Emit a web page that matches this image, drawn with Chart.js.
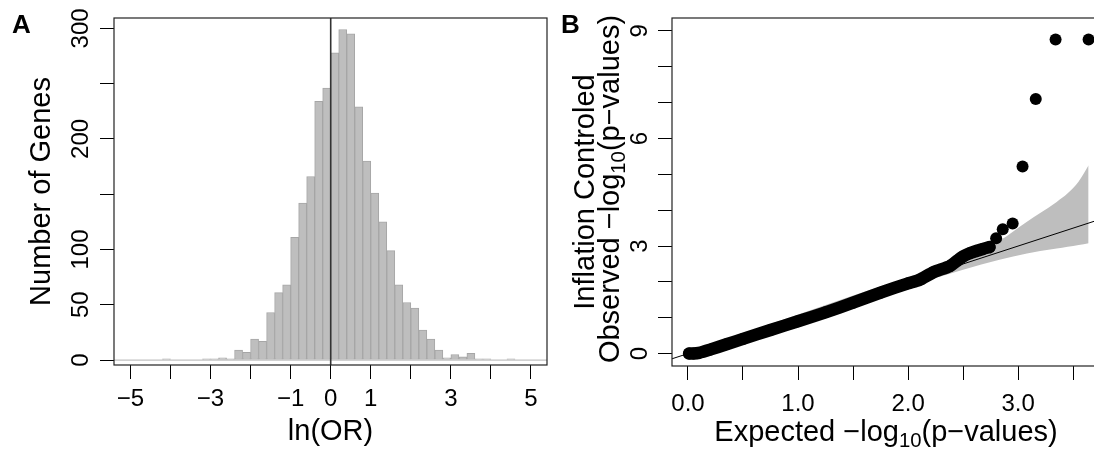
<!DOCTYPE html>
<html><head><meta charset="utf-8">
<script src="https://cdn.jsdelivr.net/npm/chart.js@4.4.0/dist/chart.umd.min.js"></script>
<style>
html,body{margin:0;padding:0;background:#fff;overflow:hidden;width:1094px;height:451px;}
#wa{position:absolute;left:0;top:0;width:556px;height:451px;}
#wb{position:absolute;left:556px;top:0;width:564px;height:451px;}
canvas{display:block;}
</style></head><body>
<div id="wa"><canvas id="ca" width="556" height="451"></canvas></div>
<div id="wb"><canvas id="cb" width="564" height="451"></canvas></div>
<script>
// ---------- Panel A : histogram of ln(OR) ----------
const binCenters = [-4.1,-3.9,-3.7,-3.5,-3.3,-3.1,-2.9,-2.7,-2.5,-2.3,-2.1,-1.9,-1.7,-1.5,-1.3,-1.1,-0.9,-0.7,-0.5,-0.3,-0.1,
                    0.1,0.3,0.5,0.7,0.9,1.1,1.3,1.5,1.7,1.9,2.1,2.3,2.5,2.7,2.9,3.1,3.3,3.5,3.7,3.9,4.1,4.3,4.5];
const geneCounts = [1,0,0,0,0,1,1,2,1,9,7,19,17,43,61,68,111,142,166,234,246,
                    278,299,295,229,180,151,125,99,68,52,47,27,19,9,2,5,3,6,1,1,0,0,1];
const xTicksA = [-5,-4,-3,-2,-1,0,1,2,3,4,5];
const xTickLabelsA = ['\u22125','','\u22123','','\u22121','0','1','','3','','5'];
const yTicksA = [0,50,100,150,200,250,300];
const yTickLabelsA = ['0','50','100','','200','','300'];

// ---------- Panel B : QQ plot ----------
const curveExpected = [0.01,0.05,0.10,0.20,0.35,0.50,0.75,1.00,1.25,1.50,1.75,2.00,2.10,2.23,2.38,2.45,2.50,2.56,2.62,2.68,2.74];
const curveObserved = [0.00,0.00,0.02,0.11,0.26,0.41,0.66,0.90,1.15,1.42,1.70,1.96,2.05,2.27,2.44,2.60,2.71,2.80,2.86,2.92,2.97];
const topExpected = [2.80,2.86,2.95,3.04,3.16,3.34,3.64];
const topObserved = [3.22,3.47,3.63,5.22,7.10,8.76,8.76];
const bandExpected = [0.0,0.5,1.0,1.5,2.0,2.5,2.83,3.08,3.2,3.35,3.45,3.55,3.64];
const bandLower    = [0.0,0.45,0.93,1.41,1.88,2.34,2.62,2.79,2.86,2.93,2.98,3.03,3.08];
const bandUpper    = [0.0,0.56,1.09,1.62,2.12,2.66,3.15,3.68,3.92,4.23,4.47,4.80,5.25];
const diagLine = [-0.2, 3.9];
const xTicksB = [0,0.5,1,1.5,2,2.5,3,3.5];
const xTickLabelsB = ['0.0','','1.0','','2.0','','3.0',''];
const yTicksB = [0,1,2,3,4,5,6,7,8,9];
const yTickLabelsB = ['0','','','3','','','6','','','9'];

const FONT = '"Liberation Sans", Arial, Helvetica, sans-serif';
Chart.defaults.font.family = FONT;
Chart.defaults.color = '#000';

const TICK = 24, TITLE = 29;

function fixTicks(vals){ return function(scale){ scale.ticks = vals.map(v => ({value: v})); }; }
function labelsFrom(labels){ return function(v, i){ return labels[i]; }; }
function zip(xs, ys){ return xs.map((x, i) => ({x: x, y: ys[i]})); }

function drawRuns(ctx, runs, size, x, y, rotate, align, weight){
  ctx.save();
  ctx.translate(x, y);
  if (rotate) ctx.rotate(-Math.PI / 2);
  ctx.textBaseline = 'alphabetic';
  ctx.textAlign = 'left';
  ctx.fillStyle = '#000';
  let total = 0;
  const parts = runs.map(r => {
    const s = r.sub ? size * 0.7 : size;
    ctx.font = (weight || '') + ' ' + s + 'px ' + FONT;
    const w = ctx.measureText(r.t).width;
    total += w;
    return {t: r.t, s: s, w: w, dy: r.sub ? size * 0.22 : 0};
  });
  let cx = align === 'center' ? -total / 2 : 0;
  parts.forEach(p => {
    ctx.font = (weight || '') + ' ' + p.s + 'px ' + FONT;
    ctx.fillText(p.t, cx, p.dy);
    cx += p.w;
  });
  ctx.restore();
}

function drawBox(ctx, a){
  ctx.save();
  ctx.strokeStyle = '#222';
  ctx.lineWidth = 1.2;
  ctx.strokeRect(a.left, a.top, a.right - a.left, a.bottom - a.top);
  ctx.restore();
}

function drawYLabels(ctx, scale, vals, labels, xBase){
  vals.forEach((v, i) => {
    if (!labels[i]) return;
    drawRuns(ctx, [{t: labels[i]}], TICK, xBase, scale.getPixelForValue(v), true, 'center');
  });
}

const plugA = {
  id: 'plugA',
  afterDatasetsDraw(chart){
    const {ctx, chartArea: a, scales: {x, y}} = chart;
    ctx.save();
    const y0 = y.getPixelForValue(0);
    ctx.strokeStyle = '#c2c2c2'; ctx.lineWidth = 1.3;
    ctx.beginPath(); ctx.moveTo(a.left, y0); ctx.lineTo(a.right, y0); ctx.stroke();
    const x0 = x.getPixelForValue(0);
    ctx.strokeStyle = '#333'; ctx.lineWidth = 1.6;
    ctx.beginPath(); ctx.moveTo(x0, a.top); ctx.lineTo(x0, a.bottom); ctx.stroke();
    ctx.restore();
  },
  afterDraw(chart){
    const {ctx, chartArea: a, scales: {y}} = chart;
    drawBox(ctx, a);
    drawYLabels(ctx, y, yTicksA, yTickLabelsA, 88);
    drawRuns(ctx, [{t: 'ln(OR)'}], TITLE, (a.left + a.right) / 2, 440, false, 'center');
    drawRuns(ctx, [{t: 'Number of Genes'}], TITLE, 50, (a.top + a.bottom) / 2, true, 'center');
    drawRuns(ctx, [{t: 'A'}], 26, 12, 33, false, 'left', 'bold');
  }
};

const plugB = {
  id: 'plugB',
  afterDraw(chart){
    const {ctx, chartArea: a, scales: {y}} = chart;
    drawBox(ctx, a);
    drawYLabels(ctx, y, yTicksB, yTickLabelsB, 91);
    drawRuns(ctx, [{t: 'Expected \u2212log'}, {t: '10', sub: true}, {t: '(p\u2212values)'}], TITLE, (a.left + a.right) / 2 - 2, 441, false, 'center');
    drawRuns(ctx, [{t: 'Inflation Controled'}], TITLE, 38, 192, true, 'center');
    drawRuns(ctx, [{t: 'Observed \u2212log'}, {t: '10', sub: true}, {t: '(p\u2212values)'}], TITLE, 63, 189, true, 'center');
    drawRuns(ctx, [{t: 'B'}], 26, 5, 33, false, 'left', 'bold');
  }
};

const tickGrid = {drawOnChartArea: false, drawTicks: true, tickLength: 14, color: '#000', lineWidth: 1};

new Chart(document.getElementById('ca'), {
  type: 'bar',
  data: {
    datasets: [{
      data: zip(binCenters, geneCounts),
      backgroundColor: '#bebebe',
      borderColor: '#a6a6a6',
      borderWidth: 1,
      borderSkipped: false,
      barPercentage: 1,
      categoryPercentage: 1
    }]
  },
  options: {
    responsive: false, animation: false, events: [],
    layout: {padding: {left: 0, right: 9, top: 18, bottom: 0}},
    plugins: {legend: {display: false}, tooltip: {enabled: false}},
    scales: {
      x: {
        type: 'linear', min: -5.41, max: 5.40, offset: false,
        grid: Object.assign({offset: false}, tickGrid),
        border: {display: false},
        afterBuildTicks: fixTicks(xTicksA),
        afterFit(s){ s.height = 86; },
        ticks: {autoSkip: false, maxRotation: 0, minRotation: 0, padding: 6, font: {size: TICK}, callback: labelsFrom(xTickLabelsA)}
      },
      y: {
        type: 'linear', min: -4.5, max: 309.4,
        grid: tickGrid,
        border: {display: false},
        afterBuildTicks: fixTicks(yTicksA),
        afterFit(s){ s.width = 114; },
        ticks: {display: false}
      }
    }
  },
  plugins: [plugA]
});

new Chart(document.getElementById('cb'), {
  type: 'scatter',
  data: {
    datasets: [
      {data: zip(topExpected, topObserved), showLine: false, pointRadius: 6, pointBackgroundColor: '#000', pointBorderWidth: 0},
      {data: zip(curveExpected, curveObserved), showLine: true, borderColor: '#000', borderWidth: 12.5,
       borderCapStyle: 'round', borderJoinStyle: 'round', tension: 0.2,
       pointRadius: 6, pointBackgroundColor: '#000', pointBorderWidth: 0},
      {data: zip(diagLine, diagLine), showLine: true, borderColor: '#000', borderWidth: 1, pointRadius: 0},
      {data: zip(bandExpected, bandLower), showLine: true, borderWidth: 0, borderColor: 'rgba(0,0,0,0)', pointRadius: 0, cubicInterpolationMode: 'monotone', fill: false},
      {data: zip(bandExpected, bandUpper), showLine: true, borderWidth: 0, borderColor: 'rgba(0,0,0,0)', pointRadius: 0, cubicInterpolationMode: 'monotone', fill: 3, backgroundColor: '#bebebe'}
    ]
  },
  options: {
    responsive: false, animation: false, events: [],
    layout: {padding: {left: 0, right: 16, top: 18, bottom: 0}},
    plugins: {legend: {display: false}, tooltip: {enabled: false}},
    scales: {
      x: {
        type: 'linear', min: -0.145, max: 3.78,
        grid: tickGrid,
        border: {display: false},
        afterBuildTicks: fixTicks(xTicksB),
        afterFit(s){ s.height = 85; },
        ticks: {autoSkip: false, maxRotation: 0, minRotation: 0, padding: 10, font: {size: TICK}, callback: labelsFrom(xTickLabelsB)}
      },
      y: {
        type: 'linear', min: -0.346, max: 9.36,
        grid: tickGrid,
        border: {display: false},
        afterBuildTicks: fixTicks(yTicksB),
        afterFit(s){ s.width = 116; },
        ticks: {display: false}
      }
    }
  },
  plugins: [plugB]
});
</script>
</body></html>
